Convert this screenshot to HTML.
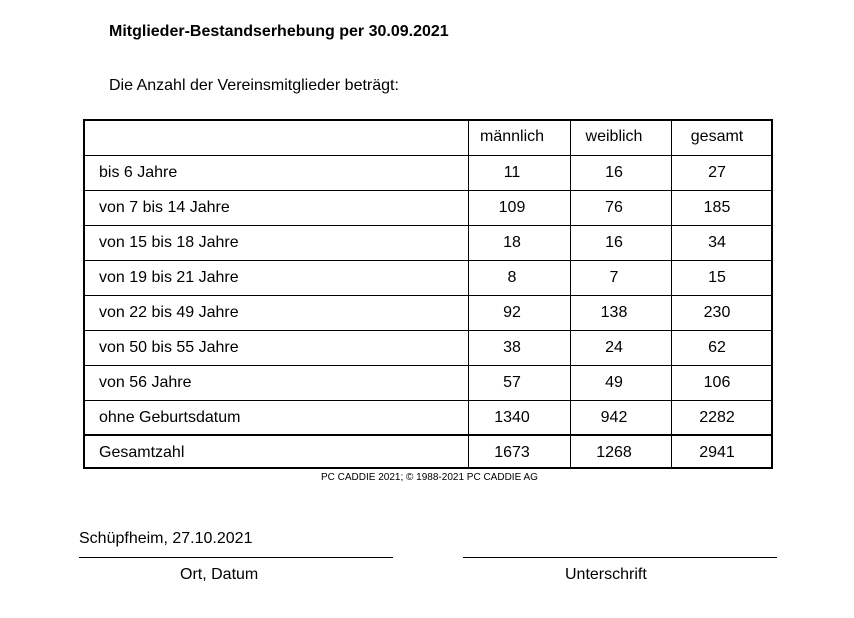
<!DOCTYPE html><html><head><style>
body{margin:0;width:854px;height:618px;background:#fff;position:relative;font-family:"Liberation Sans",Arial,sans-serif;color:#000;overflow:hidden}
.t{position:absolute;white-space:nowrap;font-size:16px}
.h{position:absolute;background:#000}
.c{position:absolute;text-align:center;font-size:16px}
</style></head><body>
<div class="t" style="left:109px;top:23px;font-weight:bold">Mitglieder-Bestandserhebung per 30.09.2021</div>
<div class="t" style="left:109px;top:77px">Die Anzahl der Vereinsmitglieder beträgt:</div>
<div style="position:absolute;left:83px;top:119px;width:686px;height:346px;border:2px solid #000"></div>
<div class="h" style="left:83px;top:155px;width:690px;height:1px"></div>
<div class="h" style="left:83px;top:190px;width:690px;height:1px"></div>
<div class="h" style="left:83px;top:225px;width:690px;height:1px"></div>
<div class="h" style="left:83px;top:260px;width:690px;height:1px"></div>
<div class="h" style="left:83px;top:295px;width:690px;height:1px"></div>
<div class="h" style="left:83px;top:330px;width:690px;height:1px"></div>
<div class="h" style="left:83px;top:365px;width:690px;height:1px"></div>
<div class="h" style="left:83px;top:400px;width:690px;height:1px"></div>
<div class="h" style="left:83px;top:434px;width:690px;height:2px"></div>
<div class="h" style="left:468px;top:119px;width:1px;height:350px"></div>
<div class="h" style="left:570px;top:119px;width:1px;height:350px"></div>
<div class="h" style="left:671px;top:119px;width:1px;height:350px"></div>
<div id="rows"></div>
<script>
var d=[["","männlich","weiblich","gesamt",128],["bis 6 Jahre","11","16","27",164],["von 7 bis 14 Jahre","109","76","185",199],["von 15 bis 18 Jahre","18","16","34",234],["von 19 bis 21 Jahre","8","7","15",269],["von 22 bis 49 Jahre","92","138","230",304],["von 50 bis 55 Jahre","38","24","62",339],["von 56 Jahre","57","49","106",374],["ohne Geburtsdatum","1340","942","2282",409],["Gesamtzahl","1673","1268","2941",444]];
var h="";d.forEach(function(r){h+='<div class="t" style="left:99px;top:'+r[4]+'px">'+r[0]+'</div>';
h+='<div class="c" style="left:469px;width:86px;top:'+r[4]+'px">'+r[1]+'</div>';
h+='<div class="c" style="left:571px;width:86px;top:'+r[4]+'px">'+r[2]+'</div>';
h+='<div class="c" style="left:673px;width:88px;top:'+r[4]+'px">'+r[3]+'</div>';});
document.getElementById("rows").innerHTML=h;
</script>
<div class="t" style="left:321px;top:472px;font-size:10px">PC CADDIE 2021; © 1988-2021 PC CADDIE AG</div>
<div class="t" style="left:79px;top:530px">Schüpfheim, 27.10.2021</div>
<div class="h" style="left:79px;top:557px;width:314px;height:1px"></div>
<div class="h" style="left:463px;top:557px;width:314px;height:1px"></div>
<div class="t" style="left:180px;top:566px">Ort, Datum</div>
<div class="t" style="left:565px;top:566px">Unterschrift</div>
</body></html>
